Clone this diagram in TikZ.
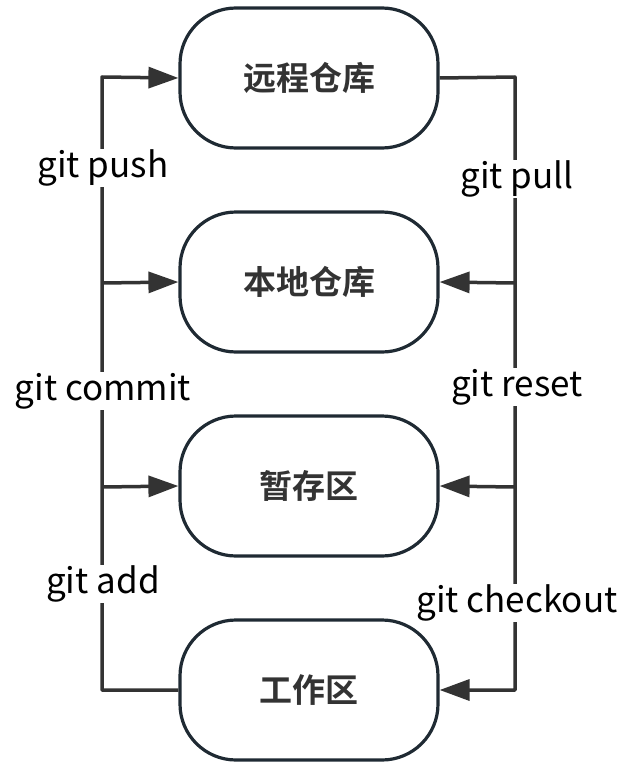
\documentclass[tikz,border=0pt]{standalone}
\usepackage{fontspec}
\setmainfont{Noto Sans CJK SC}
\newfontfamily\cjkbold{Noto Sans CJK SC Bold}
\usetikzlibrary{arrows.meta}
\definecolor{boxline}{HTML}{1F2A33}
\definecolor{conn}{HTML}{333333}
\tikzset{
  x=1pt,y=-1pt,
  stage/.style={draw=boxline,line width=3.2pt,rounded corners=56pt,minimum width=258pt,minimum height=140pt,
    font=\cjkbold\fontsize{33}{36}\selectfont,text=conn,inner sep=0pt},
  conn/.style={draw=conn,line width=3.5pt},
  arr/.style={conn,-{Triangle[length=30pt,width=21pt]}},
  lbl/.style={fill=white,font=\fontsize{35}{38}\selectfont,text=black,inner sep=1pt}
}
\begin{document}
\begin{tikzpicture}
\useasboundingbox (0,0) rectangle (642,781);
\node[stage] (remote) at (309,78) {远程仓库};
\node[stage] (local) at (309,282) {本地仓库};
\node[stage] (stage) at (309,486) {暂存区};
\node[stage] (work) at (309,690) {工作区};
\coordinate (lt) at (102,77);
\coordinate (lb) at (102,690);
\coordinate (rt) at (515,77);
\coordinate (rb) at (515,690);
% left side
\draw[arr,line join=round] (work.west) -- (lb) -- (lt) -- (remote.west);
\draw[arr] (102,283) -- (local.west);
\draw[arr] (102,487) -- (stage.west);
% right side
\draw[arr,line join=round] (remote.east) -- (rt) -- (rb) -- (work.east);
\draw[arr] (515,283) -- (local.east);
\draw[arr] (515,487) -- (stage.east);
% labels
\node[lbl] (push) at (103,168) {git push};
\node[lbl] (commit) at (103,391) {git commit};
\node[lbl] (add) at (103,584) {git add};
\node[lbl] (pull) at (517,179) {git pull};
\node[lbl] (reset) at (517,387) {git reset};
\node[lbl] (checkout) at (517,603) {git checkout};
\end{tikzpicture}
\end{document}
